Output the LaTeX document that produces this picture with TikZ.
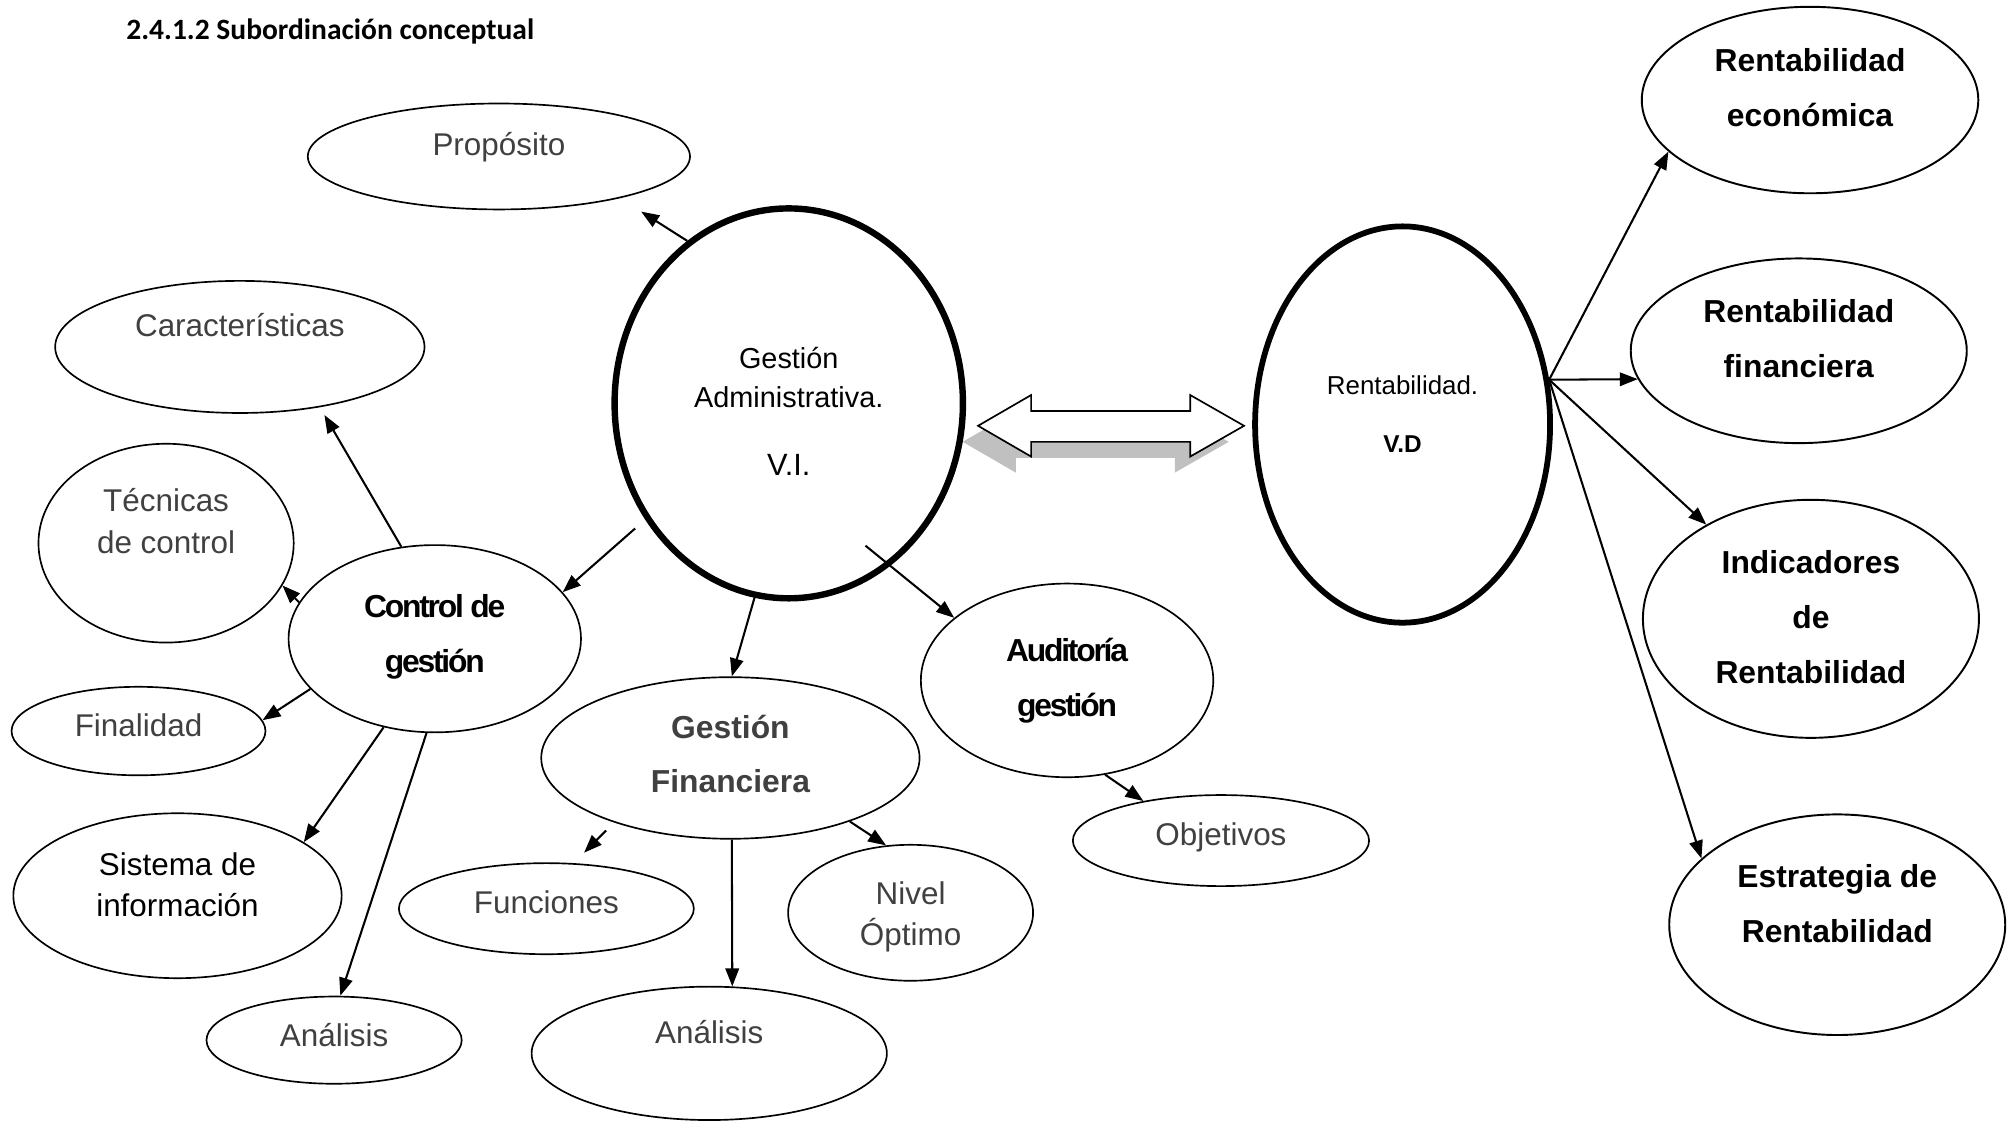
\documentclass[tikz,border=0pt]{standalone}
\usepackage{fontspec}
\setmainfont{Liberation Sans}
\newfontfamily\titlefont{Carlito}
\newfontfamily\tightfont[LetterSpace=-7]{Liberation Sans}
\usepackage{tikz}
\usetikzlibrary{arrows.meta,shapes.geometric}
\usepackage{xcolor}
\definecolor{textgray}{RGB}{64,64,64}
\definecolor{shade}{RGB}{192,192,192}
\newcommand{\ovaltext}[2]{\raisebox{#1pt}[0pt][0pt]{\begin{tabular}[t]{@{}c@{}}#2\end{tabular}}}

\begin{document}
\begin{tikzpicture}[x=1pt, y=-1pt,
  oval/.style={draw, ellipse, inner sep=0pt, line width=1.3pt},
  heavy/.style={oval, line width=5pt},
  right oval/.style={oval, line width=1.5pt, font=\bfseries\fontsize{24.8}{43}\selectfont},
  soft/.style={text=textgray, font=\fontsize{24.5}{32.3}\selectfont},
  tight/.style={font=\fontsize{24.8}{42.5}\tightfont\bfseries},
  arrow/.style={-{Triangle[length=14pt, width=10.5pt]}, line width=1.6pt},
]
  \useasboundingbox (0,0) rectangle (1568,876);

  \node[anchor=base west, font=\fontsize{23}{28}\titlefont\bfseries] (title) at (95,30.7) {2.4.1.2 Subordinación conceptual};

  \draw[line width=1.3pt, fill=white, preaction={fill=shade, transform canvas={shift={(-12pt,-12.5pt)}}}]
    (762.6,332) -- (804,308) -- (804,320.4) -- (928,320.4) -- (928,308) -- (970,332)
    -- (928,356) -- (928,344.5) -- (804,344.5) -- (804,356) -- cycle;

  \node[heavy, minimum width=271.6pt, minimum height=304pt, font=\fontsize{22.5}{30.7}\selectfont] (ga) at (615,314.5)
    {\ovaltext{27.3}{Gestión\\Administrativa.\\[21.8pt]{\fontsize{24}{30}\selectfont V.I.}}};
  \node[oval, soft, minimum width=298pt, minimum height=82.6pt] (prop) at (389,122) {\ovaltext{0.4}{Propósito}};
  \node[oval, soft, minimum width=288pt, minimum height=103pt] (car) at (187,270.5) {\ovaltext{8}{Características}};
  \node[oval, soft, minimum width=199pt, minimum height=155pt] (tec) at (129.5,423.5) {\ovaltext{24.5}{Técnicas\\de control}};
  \node[oval, tight, minimum width=228pt, minimum height=146pt] (cg) at (339,498) {\ovaltext{16.3}{Control de\\gestión}};
  \node[oval, soft, minimum width=198pt, minimum height=69pt] (fin) at (108,570) {\ovaltext{-4.4}{Finalidad}};
  \node[oval, soft, text=black, minimum width=256pt, minimum height=128.6pt] (sis) at (138.4,698.4) {\ovaltext{16.1}{Sistema de\\información}};
  \node[oval, soft, minimum width=199pt, minimum height=68pt] (anl) at (260.5,811) {\ovaltext{-5}{Análisis}};
  \node[oval, text=textgray, font=\bfseries\fontsize{24.8}{42}\selectfont, minimum width=295pt, minimum height=126pt] (gf) at (569.5,591) {\ovaltext{15}{Gestión\\Financiera}};
  \node[oval, soft, minimum width=230pt, minimum height=71pt] (fun) at (426,708.5) {\ovaltext{-3.5}{Funciones}};
  \node[oval, soft, minimum width=277pt, minimum height=104pt] (anm) at (553,821.3) {\ovaltext{7.8}{Análisis}};
  \node[oval, soft, minimum width=191pt, minimum height=106pt] (niv) at (710,711.7) {\ovaltext{6.8}{Nivel\\Óptimo}};
  \node[oval, tight, minimum width=228pt, minimum height=151pt] (aud) at (832,530.5) {\ovaltext{14.5}{Auditoría\\gestión}};
  \node[oval, soft, minimum width=231pt, minimum height=71pt] (obj) at (952,655.4) {\ovaltext{-3.5}{Objetivos}};

  \node[heavy, line width=4.5pt, minimum width=230pt, minimum height=309pt, font=\fontsize{20.2}{45.8}\selectfont] (rvd) at (1093.6,331)
    {\ovaltext{23.8}{Rentabilidad.\\{\bfseries\fontsize{19}{20}\selectfont V.D}}};
  \node[right oval, minimum width=262.4pt, minimum height=145.4pt] (re) at (1411.3,78) {\ovaltext{22.1}{Rentabilidad\\económica}};
  \node[right oval, minimum width=262pt, minimum height=144pt] (rf) at (1402.5,273.5) {\ovaltext{21.9}{Rentabilidad\\financiera}};
  \node[right oval, minimum width=262pt, minimum height=185.6pt] (ind) at (1412,482.5) {\ovaltext{35.5}{Indicadores\\de\\Rentabilidad}};
  \node[right oval, minimum width=262pt, minimum height=172pt] (est) at (1432.5,721) {\ovaltext{29}{Estrategia de\\Rentabilidad}};

  \draw[arrow, shorten >=19.5pt] (ga.122.7) -- (prop.-19.3);
  \draw[arrow, shorten <=10.4pt] (ga.-141.6) -- (cg.20.3);
  \draw[arrow] (ga.-100.5) -- (gf.89.5);
  \draw[arrow, shorten <=-24.9pt] (ga.-58.1) -- (aud.151);

  \draw[arrow, shorten >=7pt] (cg.110) -- (car.-37);
  \draw[arrow] (cg.165.4) -- (tec.-20.2);
  \draw[arrow] (cg.-158.6) -- (fin.5.4);
  \draw[arrow] (cg.-120) -- (sis.23.8);
  \draw[arrow] (cg.-95.9) -- (anl.82.9);

  \draw[arrow, shorten <=8.8pt, shorten >=11.5pt] (gf.-151) -- (fun.59.4);
  \draw[arrow] (gf.-89.5) -- (anm.71.8);
  \draw[arrow] (gf.-28.6) -- (niv.110.7);
  \draw[arrow] (aud.-68.1) -- (obj.153.5);

  \draw[arrow] (rvd.17.4) -- (re.-160.4);
  \draw[arrow] (rvd.17.4) -- (rf.-170.1);
  \draw[arrow] (rvd.17.4) -- (ind.138.9);
  \draw[arrow] (rvd.17.4) -- (est.154.8);
\end{tikzpicture}
\end{document}
